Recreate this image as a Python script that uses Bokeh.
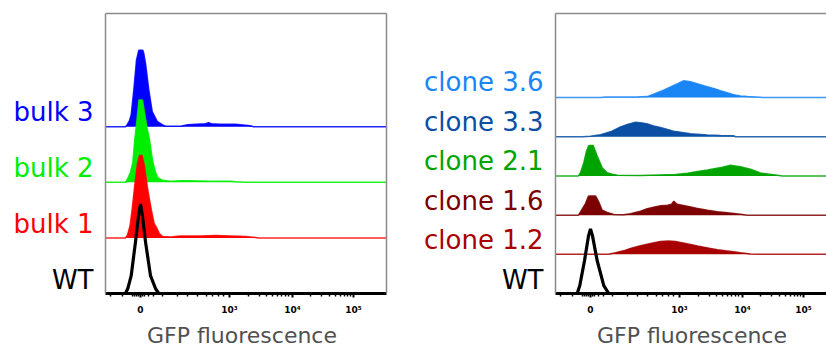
from bokeh.plotting import figure
from bokeh.models import FixedTicker, LinearAxis, Range1d
from bokeh.layouts import row, column
from bokeh.core.properties import value
from bokeh.embed import file_html
from bokeh.resources import INLINE

# ---------------- data (x in display units of the biexponential GFP axis, heights = relative counts)
tick_pos = [0, 89, 152, 213]
tick_lbl = ["0", "10³", "10⁴", "10⁵"]
minor_pos = [-30, -18, -8, -6, -4, -2, 2, 4, 8, 13, 22, 37, 47, 57, 66, 72, 78, 83,
             107.7, 118.6, 126.3, 132.3, 137.2, 141.4, 145, 148.2,
             170.4, 181.1, 188.7, 194.6, 199.5, 203.6, 207.2, 210.2]
axis_title = "GFP fluorescence"

# left panel: bulk populations (bottom to top)
left_names = ["WT", "bulk 1", "bulk 2", "bulk 3"]
left_colors = ["#000000", "#ff0000", "#00ee00", "#0000ff"]

wt_l_x = [-35, -15, -12.7, -9.3, -5, -2, 0, 2, 5, 10, 15, 18.3, 246]
wt_l_y = [0, 0, 5, 18, 52, 78, 90, 78, 52, 18, 5, 0, 0]

b1_x = [-35, -15, -13, -10.5, -8.3, -5.5, -3, -1, 1.5, 4, 7, 10.7, 13.5, 16.7, 19, 22, 30, 40, 50, 60, 75, 90, 105, 115, 118, 246]
b1_y = [0, 0, 3, 12, 29, 55, 75, 83, 83, 72, 50, 29, 15, 9, 4, 1.5, 1, 2, 2, 2, 2.3, 2, 1.5, 0.5, 0, 0]

b2_x = [-35, -15, -12.7, -10, -7.7, -5.7, -3.3, -1.5, 2, 4, 6.5, 9, 12, 15, 17, 22, 30, 40, 50, 70, 90, 95, 105, 246]
b2_y = [0, 0, 4, 10, 20, 43, 65, 83, 83, 70, 55, 43, 22, 10, 5, 2, 1, 1.5, 1.5, 1, 1, 0.5, 0, 0]

b3_x = [-35, -15, -13.3, -11, -9.3, -6.7, -4, -1.7, 2.3, 3.3, 5, 8.3, 11.7, 16.7, 21.7, 25, 40, 47, 55, 65, 68, 71, 80, 95, 100, 110, 113, 246]
b3_y = [0, 0, 2, 6, 12, 37, 67, 77, 77, 73.7, 63.7, 37, 15.3, 5.3, 2, 0.5, 0.5, 2, 2.5, 3, 4, 3, 2.5, 2.5, 2, 1, 0, 0]

# right panel: clones (bottom to top)
right_names = ["WT", "clone 1.2", "clone 1.6", "clone 2.1", "clone 3.3", "clone 3.6"]
right_colors = ["#000000", "#a80000", "#7c0000", "#00a400", "#0a4fa3", "#1a85f5"]

wt_r_x = [-35, -13.3, -10.7, -6, -2, 0, 2, 6.7, 13.3, 18.3, 246]
wt_r_y = [0, 0, 8, 33, 58, 65, 58, 33, 8, 0, 0]

c12_x = [-35, 18, 25, 33, 40, 50, 60, 70, 78, 85, 90, 100, 107, 117, 127, 135, 143, 150, 160, 165, 246]
c12_y = [0, 0, 1.5, 3.5, 6, 8.7, 11, 13, 13.5, 13, 12, 10, 8.3, 6.5, 4.7, 3.5, 2.7, 1.5, 0.3, 0, 0]

c16_x = [-35, -12, -10, -5, -2, 5, 8.3, 11.7, 16.7, 23.3, 33, 40, 50, 56.7, 63, 70, 77, 81, 83.3, 86.7, 96.7, 106, 117, 127, 137, 150, 157, 246]
c16_y = [0, 0, 3.3, 11.7, 19.3, 19.3, 13.3, 5, 2.7, 0.7, 0.5, 1.5, 4, 6.5, 8, 9.5, 10, 11, 14, 11, 9, 7, 5, 3.5, 2.5, 1, 0, 0]

c21_x = [-35, -12, -10, -6.7, -4, -1.7, 2.7, 6.7, 11.7, 16.7, 21.7, 27, 50, 68, 85, 97, 107, 117, 125, 132, 140, 150, 160, 170, 183, 192, 246]
c21_y = [0, 0, 3.3, 13.3, 25, 30.7, 30.7, 20, 8.3, 3.3, 1.7, 0.7, 0.5, 1, 1.5, 2.7, 4.5, 6, 7.5, 8.7, 10.7, 9.3, 6.7, 3, 1.3, 0, 0]

c33_x = [-35, -8, 0, 10, 20, 30, 37, 45, 52, 57, 63, 70, 83, 100, 117, 130, 143, 145, 246]
c33_y = [0, 0, 0.5, 2, 5, 10, 12.5, 14.7, 14, 13, 11, 9.3, 5.7, 3, 1.7, 1.3, 1, 0, 0]

c36_x = [-35, 10, 15, 45, 56.7, 62, 66.7, 73, 80, 87, 93.3, 100, 106.7, 115, 123, 130, 136.7, 143, 150, 157, 170, 172, 246]
c36_y = [0, 0, 0.5, 0.5, 1, 3, 5, 7.5, 10.7, 14, 17, 16, 14, 11.5, 9.3, 7, 5, 3, 1.7, 1, 0.3, 0, 0]

left_series = [(wt_l_x, wt_l_y), (b1_x, b1_y), (b2_x, b2_y), (b3_x, b3_y)]
right_series = [(wt_r_x, wt_r_y), (c12_x, c12_y), (c16_x, c16_y), (c21_x, c21_y), (c33_x, c33_y), (c36_x, c36_y)]

# ---------------- layout / style constants
FONT = "DejaVu Sans"
FRAME_GRAY = "#8a8a8a"
Y_TOP = 282
TOP_B = 13
BOTTOM_B = 22
PANEL_H = TOP_B + Y_TOP + BOTTOM_B
STRIP_H = 347 - PANEL_H
LABEL_DY = 16
X_START = -35


def bare(width, height, x_end, y_end, **kw):
    f = figure(width=width, height=height,
               x_range=Range1d(0 if x_end is None else X_START, width if x_end is None else x_end),
               y_range=Range1d(0, y_end), output_backend="svg", toolbar_location=None,
               x_axis_location=None, y_axis_location=None, **kw)
    f.grid.visible = False
    f.outline_line_color = None
    f.background_fill_color = "white"
    f.border_fill_color = "white"
    return f


def make_labels(width, names, colors, step):
    f = bare(width, 347, None, Y_TOP, min_border_left=0, min_border_right=0,
             min_border_top=TOP_B, min_border_bottom=347 - TOP_B - Y_TOP)
    ys = [i * step + LABEL_DY for i in range(len(names))]
    f.text(x=[width - 2] * len(names), y=ys, text=names, text_color=colors,
           text_align="right", text_baseline="middle",
           text_font=value(FONT), text_font_size=value("26px"))
    return f


def make_strip(width, x_end, border_right):
    f = bare(width, STRIP_H, x_end, STRIP_H, min_border_left=10, min_border_right=border_right,
             min_border_top=0, min_border_bottom=0)
    f.text(x=[101.5], y=[12.5], text=[axis_title], text_color="#505050",
           text_align="center", text_baseline="middle",
           text_font=value(FONT), text_font_size=value("22px"))
    return f


def gray_axis():
    return LinearAxis(ticker=FixedTicker(ticks=[]), axis_line_color=FRAME_GRAY, axis_line_width=1.5,
                      major_tick_line_color=None, minor_tick_line_color=None,
                      major_label_text_font_size="0px", major_label_standoff=0)


def make_panel(width, border_right, x_end, colors, series, step, right_border):
    p = figure(width=width, height=PANEL_H, x_range=Range1d(X_START, x_end), y_range=Range1d(0, Y_TOP),
               output_backend="svg", toolbar_location=None, y_axis_location=None,
               min_border_left=10, min_border_right=border_right,
               min_border_top=TOP_B, min_border_bottom=BOTTOM_B)
    p.grid.visible = False
    p.background_fill_color = "white"
    p.border_fill_color = "white"
    p.outline_line_color = None

    ax = p.xaxis[0]
    ax.ticker = FixedTicker(ticks=tick_pos, minor_ticks=minor_pos)
    ax.major_label_overrides = {t: l for t, l in zip(tick_pos, tick_lbl)}
    ax.axis_line_width = 3
    ax.axis_line_color = "black"
    ax.major_tick_out = 4
    ax.major_tick_in = 0
    ax.minor_tick_out = 3
    ax.minor_tick_in = 0
    ax.major_tick_line_width = 2
    ax.minor_tick_line_width = 1.5
    ax.major_label_text_font = FONT
    ax.major_label_text_font_size = "9px"
    ax.major_label_text_font_style = "bold"
    ax.major_label_text_color = "black"
    ax.major_label_standoff = 7

    p.add_layout(gray_axis(), "left")
    p.add_layout(gray_axis(), "above")
    if right_border:
        p.add_layout(gray_axis(), "right")

    # draw from top track to bottom so lower tracks sit in front
    for i in reversed(range(len(series))):
        xs, hs = series[i]
        off = i * step
        ys = [h + off for h in hs]
        c = colors[i]
        if i == 0:
            p.line(xs, ys, line_color=c, line_width=3.2)
        else:
            p.patch(xs, ys, fill_color=c, line_color=None)
            p.line(xs, ys, line_color=c, line_width=1.5, line_alpha=0.85)
    return p


STEP_L = 56
STEP_R = 39.46

lab_l = make_labels(95, left_names, left_colors, STEP_L)
pan_l = make_panel(305, 14, 246, left_colors, left_series, STEP_L, True)
str_l = make_strip(305, 246, 14)

lab_r = make_labels(145, right_names, right_colors, STEP_R)
pan_r = make_panel(281, 0, 236, right_colors, right_series, STEP_R, False)
str_r = make_strip(281, 236, 0)

p = row(lab_l, column(pan_l, str_l), lab_r, column(pan_r, str_r))
open("out.html", "w").write(file_html(p, INLINE))
